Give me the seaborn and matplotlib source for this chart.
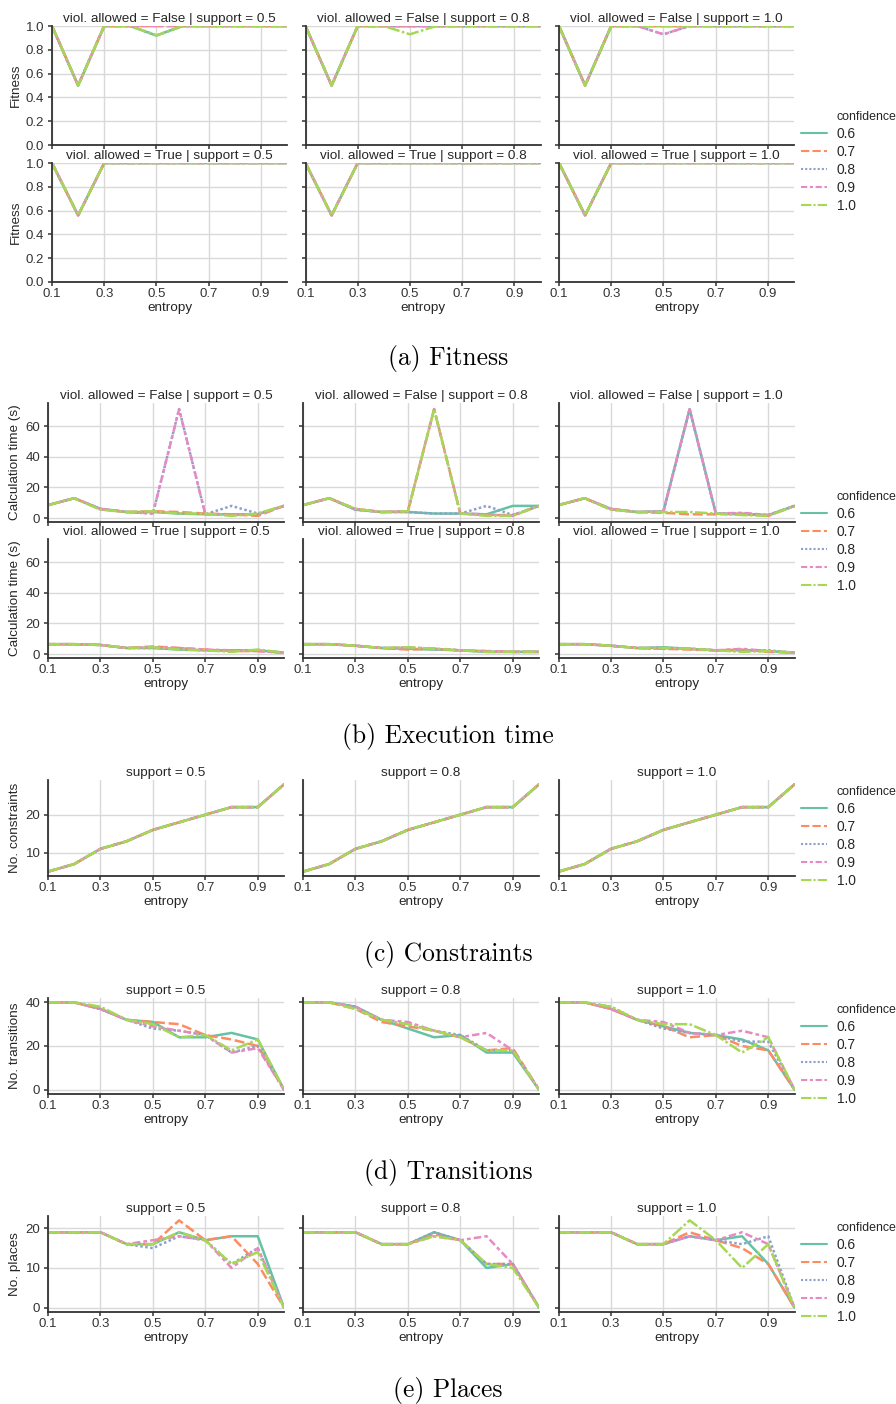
import matplotlib
matplotlib.use("Agg")
import matplotlib.pyplot as plt
import numpy as np
import pandas as pd
import seaborn as sns
from matplotlib.lines import Line2D

# ---------------- data ----------------
entropy = [0.1, 0.2, 0.3, 0.4, 0.5, 0.6, 0.7, 0.8, 0.9, 1.0]
confidences = ["0.6", "0.7", "0.8", "0.9", "1.0"]
supports = ["0.5", "0.8", "1.0"]
viol_allowed = ["False", "True"]

# Fitness (rows: confidence 0.6 .. 1.0)
fit_false_s05 = [[1, 0.5, 1, 1, 0.92, 1, 1, 1, 1, 1],
                 [1, 0.5, 1, 1, 1.0, 1, 1, 1, 1, 1],
                 [1, 0.5, 1, 1, 0.92, 1, 1, 1, 1, 1],
                 [1, 0.5, 1, 1, 1.0, 1, 1, 1, 1, 1],
                 [1, 0.5, 1, 1, 0.92, 1, 1, 1, 1, 1]]
fit_false_s08 = [[1, 0.5, 1, 1, 1.0, 1, 1, 1, 1, 1],
                 [1, 0.5, 1, 1, 1.0, 1, 1, 1, 1, 1],
                 [1, 0.5, 1, 1, 1.0, 1, 1, 1, 1, 1],
                 [1, 0.5, 1, 1, 1.0, 1, 1, 1, 1, 1],
                 [1, 0.5, 1, 1, 0.93, 1, 1, 1, 1, 1]]
fit_false_s10 = [[1, 0.5, 1, 1, 1.0, 1, 1, 1, 1, 1],
                 [1, 0.5, 1, 1, 1.0, 1, 1, 1, 1, 1],
                 [1, 0.5, 1, 1, 0.93, 1, 1, 1, 1, 1],
                 [1, 0.5, 1, 1, 0.93, 1, 1, 1, 1, 1],
                 [1, 0.5, 1, 1, 1.0, 1, 1, 1, 1, 1]]
fit_true_s05 = [[1, 0.56, 1, 1, 1, 1, 1, 1, 1, 1]] * 5
fit_true_s08 = [[1, 0.56, 1, 1, 1, 1, 1, 1, 1, 1]] * 5
fit_true_s10 = [[1, 0.56, 1, 1, 1, 1, 1, 1, 1, 1]] * 5

# Calculation time (s)
time_false_s05 = [[8.5, 13, 6.0, 4, 4.0, 3.0, 2.5, 2.5, 2.5, 8],
                  [8.5, 13, 6.0, 4, 4.5, 4.0, 3.0, 2.5, 1.5, 8],
                  [8.5, 13, 6.0, 4, 3.0, 71, 2.5, 8.0, 3.0, 8],
                  [8.5, 13, 6.0, 4, 3.0, 71, 2.5, 2.0, 2.5, 8],
                  [8.5, 13, 5.5, 4, 4.5, 3.0, 3.0, 1.5, 3.0, 8]]
time_false_s08 = [[8.5, 13, 5.5, 4, 4.0, 3.0, 3.0, 2.5, 8.0, 8],
                  [8.5, 13, 6.0, 4, 4.5, 71, 3.0, 2.0, 2.0, 8],
                  [8.5, 13, 5.5, 4, 4.0, 3.0, 3.0, 8.0, 2.0, 8],
                  [8.5, 13, 6.0, 4, 4.5, 71, 3.0, 2.5, 1.5, 8],
                  [8.5, 13, 6.0, 4, 4.5, 71, 3.0, 1.5, 1.5, 8]]
time_false_s10 = [[8.5, 13, 6.0, 4, 4.5, 71, 3.0, 2.5, 2.0, 8],
                  [8.5, 13, 6.0, 4, 3.5, 2.5, 2.5, 3.0, 1.5, 8],
                  [8.5, 13, 5.5, 4, 4.0, 71, 3.0, 3.0, 2.0, 8],
                  [8.5, 13, 6.0, 4, 4.5, 71, 3.0, 3.5, 2.0, 8],
                  [8.5, 13, 5.5, 4, 4.0, 4.0, 3.0, 2.0, 1.5, 8]]
time_true_s05 = [[6.5, 6.5, 6, 4, 4.0, 3.0, 2.5, 2.5, 2.5, 1],
                 [6.5, 6.5, 6, 4, 5.0, 4.0, 3.0, 2.0, 2.0, 1],
                 [6.5, 6.5, 6, 4, 4.0, 3.5, 2.5, 2.5, 2.5, 1],
                 [6.5, 6.5, 6, 4, 4.5, 4.0, 3.0, 2.5, 2.0, 1],
                 [6.5, 6.5, 6, 4, 4.5, 3.0, 2.5, 1.5, 3.0, 1]]
time_true_s08 = [[6.5, 6.5, 5.5, 4, 3.5, 3.0, 2.5, 1.5, 1.5, 1.5],
                 [6.5, 6.5, 5.5, 4, 3.0, 3.5, 2.5, 2.0, 1.5, 1.5],
                 [6.5, 6.5, 5.5, 4, 4.0, 3.5, 2.5, 1.5, 1.5, 1.5],
                 [6.5, 6.5, 5.5, 4, 4.5, 3.5, 2.5, 2.0, 1.5, 1.5],
                 [6.5, 6.5, 5.5, 4, 4.5, 3.5, 2.5, 1.5, 1.5, 1.5]]
time_true_s10 = [[6.5, 6.5, 5.5, 4, 4.5, 3.5, 2.5, 2.5, 2.0, 1],
                 [6.5, 6.5, 5.5, 4, 3.5, 3.0, 2.5, 3.0, 1.5, 1],
                 [6.5, 6.5, 5.5, 4, 3.5, 3.5, 2.5, 2.5, 2.5, 1],
                 [6.5, 6.5, 5.5, 4, 4.0, 3.5, 2.5, 3.5, 2.0, 1],
                 [6.5, 6.5, 5.5, 4, 4.0, 3.5, 2.5, 1.5, 2.0, 1]]

# Number of constraints (identical for every confidence)
constraints_s05 = [[5, 7, 11, 13, 16, 18, 20, 22, 22, 28]] * 5
constraints_s08 = [[5, 7, 11, 13, 16, 18, 20, 22, 22, 28]] * 5
constraints_s10 = [[5, 7, 11, 13, 16, 18, 20, 22, 22, 28]] * 5

# Number of transitions
trans_s05 = [[40, 40, 37, 32, 31, 24, 24, 26, 23, 0],
             [40, 40, 37, 32, 31, 30, 25, 23, 20, 0],
             [40, 40, 37, 32, 28, 27, 25, 17, 20, 0],
             [40, 40, 37, 32, 29, 27, 25, 17, 19, 0],
             [40, 40, 38, 32, 30, 24, 25, 18, 23, 0]]
trans_s08 = [[40, 40, 38, 32, 28, 24, 25, 17, 17, 0],
             [40, 40, 37, 31, 29, 27, 24, 18, 19, 0],
             [40, 40, 38, 32, 30, 27, 25, 18, 18, 0],
             [40, 40, 38, 32, 31, 27, 24, 26, 18, 0],
             [40, 40, 37, 32, 30, 27, 24, 18, 18, 0]]
trans_s10 = [[40, 40, 37, 32, 29, 26, 25, 23, 18, 0],
             [40, 40, 37, 32, 29, 24, 25, 20, 18, 0],
             [40, 40, 38, 32, 28, 26, 25, 22, 22, 0],
             [40, 40, 37, 32, 31, 26, 25, 27, 24, 0],
             [40, 40, 38, 32, 30, 30, 25, 17, 24, 0]]

# Number of places
places_s05 = [[19, 19, 19, 16, 16, 19, 17, 18, 18, 0],
              [19, 19, 19, 16, 16, 22, 17, 18, 11, 0],
              [19, 19, 19, 16, 15, 18, 17, 11, 15, 0],
              [19, 19, 19, 16, 17, 18, 17, 10, 15, 0],
              [19, 19, 19, 16, 16, 19, 17, 11, 14, 0]]
places_s08 = [[19, 19, 19, 16, 16, 19, 17, 10, 11, 0],
              [19, 19, 19, 16, 16, 18.5, 17, 11, 11, 0],
              [19, 19, 19, 16, 16, 19, 17, 11, 11, 0],
              [19, 19, 19, 16, 16, 18, 17, 18, 11, 0],
              [19, 19, 19, 16, 16, 18, 17, 11, 10, 0]]
places_s10 = [[19, 19, 19, 16, 16, 18, 17, 18, 11, 0],
              [19, 19, 19, 16, 16, 19, 17, 15, 11, 0],
              [19, 19, 19, 16, 16, 18, 17, 16, 18, 0],
              [19, 19, 19, 16, 16, 18, 17, 19, 16, 0],
              [19, 19, 19, 16, 16, 22, 17, 10, 16, 0]]

# ---------------- style ----------------
sns.set_theme(style="ticks", rc={
    "axes.grid": True,
    "grid.color": "#d9d9d9",
    "grid.linewidth": 1.0,
    "axes.edgecolor": ".2",
    "axes.linewidth": 1.3,
    "xtick.major.size": 3,
    "ytick.major.size": 3,
    "xtick.major.width": 1.1,
    "ytick.major.width": 1.1,
    "xtick.major.pad": 1.5,
    "ytick.major.pad": 2.5,
    "xtick.color": ".2",
    "ytick.color": ".2",
    "text.color": ".15",
    "axes.labelcolor": ".15",
})
plt.rcParams["font.family"] = ["Liberation Sans", "DejaVu Sans"]

FS_TITLE = 9.7
FS_TICK = 9.5
FS_LABEL = 9.7
FS_LEG = 9.9
LW = 1.8

W, H = 896, 1404
fig = plt.figure(figsize=(W / 100, H / 100), dpi=100)
palette = sns.color_palette("Set2", 5)
dash_list = ["", (4, 1.5), (1, 1), (3, 1.25, 1.5, 1.25), (5, 1, 1, 1)]


def to_long(rows):
    recs = []
    for conf, vals in zip(confidences, rows):
        for e, v in zip(entropy, vals):
            recs.append({"entropy": e, "value": v, "confidence": conf})
    return pd.DataFrame(recs)


def make_ax(x, y_top, w, h, sharey=None):
    return fig.add_axes([x / W, 1 - (y_top + h) / H, w / W, h / H], sharey=sharey)


def draw(ax, rows, title, first_col, bottom_row, ylabel, yticks):
    df = to_long(rows)
    sns.lineplot(data=df, x="entropy", y="value", hue="confidence", style="confidence",
                 hue_order=confidences, style_order=confidences, palette=palette,
                 dashes=dash_list, linewidth=LW, ax=ax, legend=False)
    ax.set_xlim(0.1, 1.0)
    ax.set_xticks([0.1, 0.3, 0.5, 0.7, 0.9])
    ax.set_yticks(yticks)
    ax.tick_params(labelsize=FS_TICK)
    ax.set_title(title, fontsize=FS_TITLE, pad=3)
    sns.despine(ax=ax)
    if first_col:
        ax.set_ylabel(ylabel, fontsize=FS_LABEL, labelpad=3)
    else:
        ax.set_ylabel("")
        ax.tick_params(labelleft=False)
    if bottom_row:
        ax.set_xlabel("entropy", fontsize=FS_LABEL, labelpad=1.5)
    else:
        ax.set_xlabel("")
        ax.tick_params(labelbottom=False)


def legend_at(x, y_top):
    handles = [Line2D([], [], linestyle="none")]
    for c, d in zip(palette, dash_list):
        ln = Line2D([0, 1], [0, 0], color=c, lw=1.5)
        if d:
            ln.set_dashes(d)
        handles.append(ln)
    labels = ["confidence"] + confidences
    leg = fig.legend(handles, labels, loc="upper left", bbox_to_anchor=(x / W, 1 - y_top / H),
                     frameon=False, borderpad=0, borderaxespad=0, handlelength=1.9,
                     handletextpad=0.7, labelspacing=0.29, fontsize=FS_LEG)
    leg.get_texts()[0].set_fontsize(8.9)


def caption(y, text):
    fig.text(0.5, 1 - y / H, text, ha="center", va="center",
             family=["cmr10", "DejaVu Serif"], fontsize=18.3, color="black")


# ---------------- (a) Fitness ----------------
lefts_a = [52, 305.5, 559]
w_a = 235
rows_a = [(26, 119), (163, 119)]
fit_grid = {("False", "0.5"): fit_false_s05, ("False", "0.8"): fit_false_s08,
            ("False", "1.0"): fit_false_s10, ("True", "0.5"): fit_true_s05,
            ("True", "0.8"): fit_true_s08, ("True", "1.0"): fit_true_s10}
for r, v in enumerate(viol_allowed):
    for c, s in enumerate(supports):
        ax = make_ax(lefts_a[c], rows_a[r][0], w_a, rows_a[r][1])
        draw(ax, fit_grid[(v, s)], f"viol. allowed = {v} | support = {s}",
             c == 0, r == 1, "Fitness", [0.0, 0.2, 0.4, 0.6, 0.8, 1.0])
        ax.set_ylim(0, 1.0)
legend_at(801, 110)
caption(358, "(a) Fitness")

# ---------------- (b) Execution time ----------------
lefts = [48, 303, 558.5]
w_p = 236
rows_b = [(403, 119), (539, 119)]
time_grid = {("False", "0.5"): time_false_s05, ("False", "0.8"): time_false_s08,
             ("False", "1.0"): time_false_s10, ("True", "0.5"): time_true_s05,
             ("True", "0.8"): time_true_s08, ("True", "1.0"): time_true_s10}
first = None
for r, v in enumerate(viol_allowed):
    for c, s in enumerate(supports):
        ax = make_ax(lefts[c], rows_b[r][0], w_p, rows_b[r][1], sharey=first)
        if first is None:
            first = ax
        draw(ax, time_grid[(v, s)], f"viol. allowed = {v} | support = {s}",
             c == 0, r == 1, "Calculation time (s)", [0, 20, 40, 60])
first.set_ylim(-2.5, 75)
legend_at(801, 490)
caption(737, "(b) Execution time")


def single_row(grid_rows, top, h, ylabel, yticks, ylim, leg_y, cap_y, cap_text):
    for c, s in enumerate(supports):
        ax = make_ax(lefts[c], top, w_p, h)
        draw(ax, grid_rows[c], f"support = {s}", c == 0, True, ylabel, yticks)
        ax.set_ylim(*ylim)
    legend_at(801, leg_y)
    caption(cap_y, cap_text)


single_row([constraints_s05, constraints_s08, constraints_s10], 780, 96,
           "No. constraints", [10, 20], (3.85, 29.15), 785, 955, "(c) Constraints")
single_row([trans_s05, trans_s08, trans_s10], 998, 96,
           "No. transitions", [0, 20, 40], (-2, 42), 1003, 1172, "(d) Transitions")
single_row([places_s05, places_s08, places_s10], 1216, 96,
           "No. places", [0, 10, 20], (-1.1, 23.1), 1221, 1390, "(e) Places")

fig.savefig("out.png", dpi=100)
